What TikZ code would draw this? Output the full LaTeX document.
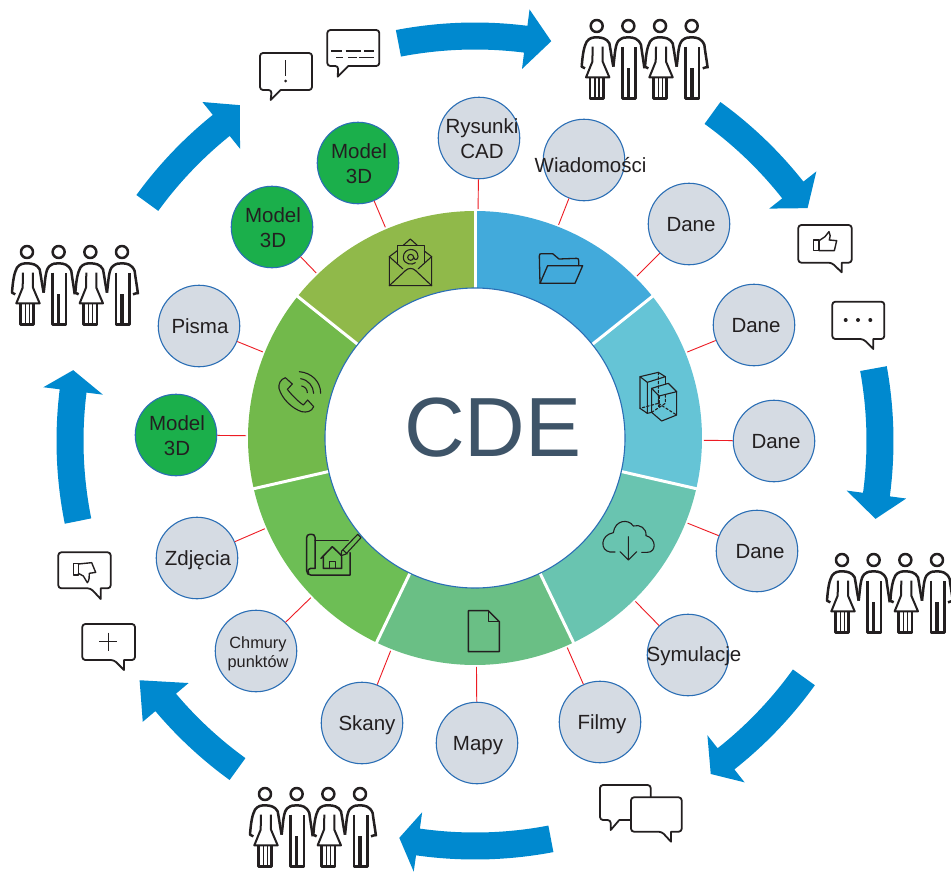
\documentclass[tikz,border=0pt]{standalone}
\usepackage{fontspec}
\setmainfont{Liberation Sans}
\usetikzlibrary{calc}
\definecolor{flowblue}{HTML}{0089CF}
\definecolor{segA}{HTML}{42AADB}
\definecolor{segB}{HTML}{65C4D6}
\definecolor{segC}{HTML}{69C4B0}
\definecolor{segD}{HTML}{6ABF85}
\definecolor{segE}{HTML}{6DBE55}
\definecolor{segF}{HTML}{72B94B}
\definecolor{segG}{HTML}{90B94A}
\definecolor{circgrey}{HTML}{D5DBE3}
\definecolor{circgreen}{HTML}{1BAF4B}
\definecolor{circline}{HTML}{2A6EB5}
\definecolor{linkred}{HTML}{ED1C24}
\definecolor{cdetext}{HTML}{3E5468}
\definecolor{ink}{HTML}{231F20}
\tikzset{
  infocircle/.style={circle,draw=circline,line width=1.1pt,fill=circgrey,minimum size=81.5pt,inner sep=0pt,align=center,text=ink,font=\fontsize{20.5}{25}\selectfont},
  modelcircle/.style={infocircle,fill=circgreen},
  link/.style={draw=linkred,line width=0.9pt},
  icon/.style={draw=ink,line width=1.1pt,line join=round,line cap=round},
  bubble/.style={draw=ink,line width=1.8pt,line join=round,fill=white},
  person/.style={draw=ink,line width=2.5pt,line join=round},
  zoomed/.style={x=0.33333pt,y=-0.33333pt}
}
% circle label of no size, so it leaves the circle's size alone; moved right by #1
\newcommand{\lbl}[2][1]{\makebox[0pt][c]{\hspace*{#1pt}\hspace*{#1pt}\raisebox{-8pt}[0pt][0pt]{\begin{tabular}{@{}c@{}}#2\end{tabular}}}}
% flow arrow: tail angle, base angle, tip angle, tip radius
\newcommand{\flowarrow}[4]{%
  \fill[flowblue] (#1:391.5) arc[start angle=#1,end angle=#2,radius=391.5]
    -- (#2:375) -- (#3:#4) -- (#2:435) -- (#2:418.5)
    arc[start angle=#2,end angle=#1,radius=418.5] -- cycle;}
\newcommand{\ringseg}[3]{%
  \fill[#3] (#1:227) arc[start angle=#1,end angle=#2,radius=227]
    -- (#2:150) arc[start angle=#2,end angle=#1,radius=150] -- cycle;}
% speech bubble: x0 y0 x1 y1, tail a, tail tip, tail b
\newcommand{\speech}[7]{%
  \draw[bubble] (#6) -- (#7,#4) [rounded corners=3pt] -- (#3,#4) -- (#3,#2) -- (#1,#2) -- (#1,#4) -- (#5,#4) [sharp corners] -- cycle;}
\newcommand{\people}[2]{%
  \begin{scope}[shift={({#1-36.67},{#2-26})},zoomed]
    \foreach \dx in {0,190}{
      \begin{scope}[xshift=\dx*0.33333pt]
        \draw[person] (110,78) circle[radius=18];
        \draw[person] (205,78) circle[radius=18];
        \draw[person] (75,205) -- (65,200) .. controls (68,160) and (72,140) .. (80,125)
           .. controls (88,113) and (100,112) .. (110,112) .. controls (125,112) and (140,115) .. (148,130)
           .. controls (152,150) and (155,175) .. (160,200);
        \draw[person,line width=2pt] (98,140) -- (97,185) -- (78,232) -- (148,232) -- (128,185) -- (128,140);
        \draw[person] (90,232) -- (90,296) -- (130,296) -- (130,232);
        \draw[draw=ink,line width=1.5pt] (105,232) -- (105,292) (117,232) -- (117,292);
        \draw[person] (160,200) .. controls (165,160) and (165,130) .. (178,120)
           .. controls (188,112) and (195,112) .. (205,112) .. controls (220,112) and (235,115) .. (243,135)
           .. controls (246,160) and (250,180) .. (253,205);
        \draw[person] (187,140) -- (187,296) -- (227,296) -- (227,140);
        \draw[draw=ink,line width=3.6pt] (205,205) -- (205,296);
      \end{scope}}
    \draw[person] (443,200) -- (428,205);
  \end{scope}}
\begin{document}
\begin{tikzpicture}[x=1pt,y=-1pt]
\useasboundingbox (0,0) rectangle (951,871);
\fill[white] (0,0) rectangle (951,871);
\coordinate (ctr) at (475,438);

% flow arrows
\begin{scope}[shift={(475,441)},y=1pt]
  \flowarrow{100.9}{82.8}{79.2}{407}
  \flowarrow{54.1}{38.3}{35}{406}
  \flowarrow{10.3}{-7.6}{-11}{408}
  \flowarrow{-35.7}{-51.7}{-54.7}{408}
  \flowarrow{-79.2}{-98.1}{-100.8}{404}
  \flowarrow{-125.9}{-139.8}{-144.5}{412}
  \flowarrow{191.4}{172.9}{170}{408}
  \flowarrow{144}{128.8}{125}{410}
\end{scope}

% circles
\node[infocircle] (n1) at (479,138) {\lbl[3]{Rysunki\\CAD}};
\node[infocircle] (n2) at (584,160) {};
\node[infocircle] (n3) at (689,224) {\lbl[2]{Dane}};
\node[infocircle] (n4) at (754,325) {\lbl[2]{Dane}};
\node[infocircle] (n5) at (774,441) {\lbl[2]{Dane}};
\node[infocircle] (n6) at (757,551) {\lbl[3]{Dane}};
\node[infocircle] (n7) at (688,655) {};
\node[infocircle] (n8) at (600,722) {\lbl[2]{Filmy}};
\node[infocircle] (n9) at (477,743) {\lbl{Mapy}};
\node[infocircle] (n10) at (362,723) {\lbl[5]{Skany}};
\node[infocircle,font=\fontsize{16.3}{19}\selectfont] (n11) at (256,651) {\lbl[2]{Chmury\\punktów}};
\node[infocircle] (n12) at (197,558) {\lbl{Zdjęcia}};
\node[modelcircle] (n13) at (176,435) {\lbl{Model\\3D}};
\node[infocircle] (n14) at (199,326) {\lbl{Pisma}};
\node[modelcircle] (n15) at (272,227) {\lbl{Model\\3D}};
\node[modelcircle] (n16) at (358,163) {\lbl{Model\\3D}};
\node[text=ink,font=\fontsize{20.5}{25}\selectfont,inner sep=0pt] (t2) at (590.5,165) {Wiadomości};
\node[text=ink,font=\fontsize{20.5}{25}\selectfont,inner sep=0pt] (t7) at (694,656) {Symulacje};

% connectors
\foreach \n in {n1,n2,n3,n4,n5,n6,n7,n8,n9,n10,n11,n12,n13,n14,n15,n16}{
  \coordinate (r\n) at ($(ctr)!229pt!(\n)$);
  \draw[link] (\n) -- (r\n);
}

% ring
\begin{scope}[shift={(475,438)},y=1pt]
  \ringseg{90}{38.6}{segA}
  \ringseg{38.6}{-12.9}{segB}
  \ringseg{-12.9}{-64.3}{segC}
  \ringseg{-64.3}{-115.7}{segD}
  \ringseg{-115.7}{-167.1}{segE}
  \ringseg{-167.1}{-218.6}{segF}
  \ringseg{141.4}{90}{segG}
  \foreach \a in {90,38.6,-12.9,-64.3,-115.7,-167.1,141.4}
    \draw[white,line width=3pt] (\a:149) -- (\a:228);
  \fill[white] (0,0) circle[radius=150];
  \draw[circline,line width=1.1pt] (0,0) circle[radius=150];
\end{scope}
\node[text=cdetext,font=\fontsize{84}{90}\selectfont,inner sep=0pt] (cde) at (493,428) {CDE};

% ring icons
\begin{scope}[shift={(360,230)},zoomed]
  % envelope
  \draw[icon] (112,62) -- (88,80) -- (88,167) -- (215,167) -- (215,80) -- (193,63);
  \draw[icon] (130,46) -- (151,27) -- (172,46);
  \draw[icon] (112,100) -- (112,47) -- (193,47) -- (193,100);
  \draw[icon] (88,80) -- (128,116) (215,80) -- (175,116);
  \draw[icon] (88,167) -- (136,122) .. controls (145,113) and (158,113) .. (167,122) -- (215,167);
  \draw[icon] (152,82) circle[radius=9];
  \draw[icon] (161,82) .. controls (163,92) and (174,90) .. (174,80) .. controls (174,50) and (130,52) .. (130,82) .. controls (130,104) and (158,106) .. (166,98);
  % folder
  \draw[icon,line width=1.3pt] (563,107) -- (668,107) -- (645,160) -- (540,160) -- cycle;
  \draw[icon,line width=1.3pt] (540,160) -- (538,78) .. controls (538,72) and (540,71) .. (545,71) -- (578,71) -- (597,87) -- (650,85) .. controls (655,85) and (656,87) .. (656,92) -- (656,107);
  % boxes
  \draw[icon] (840,440) -- (895,427) -- (916,440) -- (862,457) -- cycle;
  \draw[icon] (840,440) -- (840,535) -- (862,550) -- (862,457);
  \draw[icon] (916,440) -- (916,462);
  \draw[icon] (862,550) -- (875,547);
  \draw[icon] (875,475) -- (925,460) -- (950,485) -- (897,498) -- cycle;
  \draw[icon] (875,475) -- (875,547) -- (905,573) -- (950,555) -- (950,485);
  \draw[icon,dash pattern=on 2.5pt off 2pt] (897,498) -- (897,530);
  \draw[icon,dash pattern=on 2.5pt off 2pt] (895,427) -- (895,520) -- (840,535);
  \draw[icon,dash pattern=on 2.5pt off 2pt] (895,520) -- (950,555);
  \draw[icon,dash pattern=on 2.5pt off 2pt] (875,547) -- (916,520) -- (916,490);
\end{scope}
\begin{scope}[shift={(260,360)},zoomed]
  % phone
  \draw[icon] (76,53) -- (97,72) -- (82,88) .. controls (95,105) and (115,125) .. (130,135) -- (143,120) -- (161,140)
     .. controls (155,155) and (140,158) .. (125,155) .. controls (95,145) and (65,115) .. (57,85) .. controls (55,70) and (62,58) .. (76,53);
  \draw[icon] (118,35) .. controls (155,38) and (182,65) .. (182,100);
  \draw[icon] (122,56) .. controls (145,60) and (160,78) .. (161,100);
  \draw[icon] (125,78) .. controls (135,80) and (142,88) .. (142,98);
  % plan
  \draw[icon,line width=1.5pt] (165,625) -- (165,532) .. controls (165,525) and (160,523) .. (155,523) -- (150,523) .. controls (143,523) and (140,527) .. (140,533) -- (140,632)
     .. controls (140,640) and (145,645) .. (152,645) -- (270,645) -- (270,578);
  \draw[icon,line width=1.5pt] (165,625) -- (152,625) .. controls (145,625) and (142,630) .. (146,640);
  \draw[icon,line width=1.5pt] (165,541) -- (265,541);
  \draw[icon,line width=1.5pt] (183,595) -- (217,560) -- (245,587) (190,590) -- (190,625) -- (245,625) -- (245,590);
  \draw[icon,line width=1.5pt] (208,625) -- (208,605) -- (226,605) -- (226,625);
  \draw[icon] (245,573) -- (293,523) -- (303,533) -- (258,582) -- (243,587) -- cycle;
  \draw[icon] (249,570) -- (262,582);
\end{scope}
\begin{scope}[shift={(590,510)},zoomed]
  % cloud
  \draw[icon] (75,126) -- (60,126) .. controls (30,122) and (30,75) .. (70,68) .. controls (75,30) and (115,25) .. (130,48)
     .. controls (150,42) and (170,55) .. (168,77) .. controls (200,85) and (200,127) .. (172,127) -- (155,127);
  \draw[icon] (115,80) -- (115,150) (90,125) -- (115,150) -- (140,125);
\end{scope}
\begin{scope}[shift={(450,600)},zoomed]
  % document
  \draw[icon,line width=1.4pt] (55,155) -- (55,32) -- (115,32) -- (148,65) -- (148,155) -- cycle;
  \draw[icon,line width=1.4pt] (115,32) -- (115,65) -- (148,65);
\end{scope}

% speech bubbles
\speech{260}{53}{312}{90}{271.7}{270.7,100}{280.7}
\draw[ink,line width=1.4pt] (285.7,60) -- (285.7,75.7);
\fill[ink] (285.7,81) circle[radius=1.5];
\speech{327.3}{30}{379.3}{66}{338.3}{337.7,76.7}{348.3}
\draw[ink,line width=1.8pt] (331,50.7) -- (342.3,50.7) (345.7,50.7) -- (361,50.7) (364.3,50.7) -- (374,50.7);
\draw[ink,line width=1pt] (336,57.3) -- (343.3,57.3) (348.3,57.3) -- (356.7,57.3) (359.3,57.3) -- (374,57.3);
\speech{798.3}{225}{851.7}{262.7}{831.7}{841.7,272.3}{841.7}
\begin{scope}[shift={(780,210)},zoomed]
  \draw[icon,line width=1.4pt] (100,90) -- (117,90) -- (117,122) -- (100,122) -- cycle;
  \draw[icon,line width=1.4pt] (117,92) -- (135,80) -- (147,65) .. controls (153,72) and (150,82) .. (148,90) -- (170,92) -- (163,122) -- (117,122);
\end{scope}
\speech{832.3}{301.7}{884.3}{339}{863.3}{873.3,349}{873.3}
\fill[ink] (845.7,320) circle[radius=2] (858,320) circle[radius=2] (870.3,320) circle[radius=2];
\speech{58.3}{552.3}{110.7}{588.3}{90.7}{100.7,599}{100.7}
\begin{scope}[shift={(50,540)},zoomed]
  \draw[icon,line width=1.4pt] (70,70) -- (85,70) -- (85,105) -- (70,105) -- cycle;
  \draw[icon,line width=1.4pt] (85,72) -- (125,68) -- (137,97) -- (118,100) .. controls (118,110) and (118,122) .. (112,128) -- (100,108) -- (85,100);
\end{scope}
\speech{82.3}{624}{135}{660}{114}{124,670}{124}
\draw[ink,line width=1.2pt] (99.3,641.7) -- (117.3,641.7) (108.3,632.7) -- (108.3,650.7);
\speech{600}{785}{650.7}{820}{610.7}{610.7,830}{619.3}
\speech{631}{797.3}{681.7}{831.7}{661.7}{671,841.7}{671}

% people
\people{596.7}{26}
\people{27}{252}
\people{842}{560}
\people{265}{794}
\end{tikzpicture}
\end{document}
